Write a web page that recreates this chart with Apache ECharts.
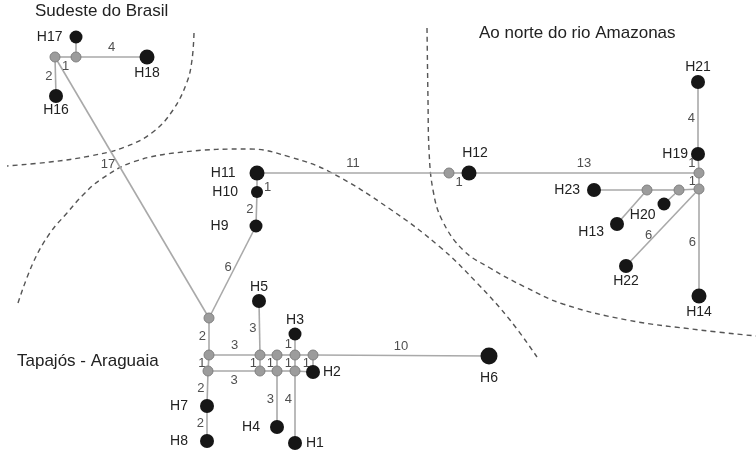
<!DOCTYPE html>
<html>
<head>
<meta charset="utf-8">
<style>
  html, body { margin: 0; padding: 0; background: #fff; }
  #chart { width: 756px; height: 452px; }
</style>
<script src="https://cdn.jsdelivr.net/npm/echarts@6/dist/echarts.min.js"></script>
</head>
<body>
<div id="chart"></div>
<script>
// haplotypes (black nodes), positions
const haplotypes = ['H1', 'H2', 'H3', 'H4', 'H5', 'H6', 'H7', 'H8', 'H9', 'H10', 'H11', 'H12',
  'H13', 'H14', 'H16', 'H17', 'H18', 'H19', 'H20', 'H21', 'H22', 'H23']
const hapX = [295, 313, 295, 277, 259, 489, 207, 207, 256, 257, 257, 469, 617, 699, 56, 76, 147, 698, 664, 698, 626, 594]
const hapY = [443, 372, 334, 427, 301, 356, 406, 441, 226, 192, 173, 173, 224, 296, 96, 37, 57, 154, 204, 82, 266, 190]

// median vectors (grey nodes)
const medians = ['mA', 'mB', 'mG1', 'mG2', 'mG3', 'mT1', 'mT2', 'mT3', 'mT4', 'mB1', 'mB2', 'mB3', 'mC', 'mD', 'mE', 'mF', 'mG']
const medX = [55, 76, 209, 209, 208, 260, 277, 295, 313, 260, 277, 295, 449, 699, 699, 679, 647]
const medY = [57, 57, 318, 355, 371, 355, 355, 355, 355, 371, 371, 371, 173, 173, 189, 190, 190]

// links and number of mutational steps (0 = not labelled)
const edgeFrom = ['mA', 'mB', 'mB', 'mA', 'mA', 'mG1', 'H9', 'H10', 'H11', 'mC', 'H12', 'mD', 'mD', 'H19',
  'mE', 'mF', 'mG', 'mG', 'mF', 'mE', 'mE', 'mG1', 'mG2', 'mG3', 'H7', 'mG2', 'mT1', 'mT2', 'mT3', 'mT4',
  'mT1', 'mT3', 'mG3', 'mB1', 'mB2', 'mB3', 'mT1', 'mT2', 'mT3', 'mT4', 'mB2', 'mB3']
const edgeTo = ['mB', 'H17', 'H18', 'H16', 'mG1', 'H9', 'H10', 'H11', 'mC', 'H12', 'mD', 'H19', 'mE', 'H21',
  'mF', 'mG', 'H23', 'H13', 'H20', 'H22', 'H14', 'mG2', 'mG3', 'H7', 'H8', 'mT1', 'mT2', 'mT3', 'mT4', 'H6',
  'H5', 'H3', 'mB1', 'mB2', 'mB3', 'H2', 'mB1', 'mB2', 'mB3', 'H2', 'H4', 'H1']
const edgeSteps = [1, 0, 4, 2, 17, 6, 2, 1, 11, 1, 13, 1, 1, 4,
  0, 0, 0, 0, 0, 6, 6, 2, 1, 2, 2, 3, 0, 0, 0, 10,
  3, 1, 3, 0, 0, 0, 1, 1, 1, 1, 3, 4]

// dashed region borders
const sudesteBorder = [[194, 33], [192, 60], [187, 82], [173, 110], [153, 132], [125, 147], [90, 156], [50, 162], [7, 166]]
const tapajosBorder = [[18, 303], [33, 263], [50, 233], [67, 213], [83, 195], [100, 180], [133, 162], [183, 152],
  [250, 149], [290, 157], [330, 172], [390, 209], [440, 247], [477, 283], [510, 320], [537, 357]]
const amazonasBorder = [[427, 28], [428, 100], [429, 150], [433, 190], [442, 220], [463, 250], [490, 268],
  [525, 287], [563, 304], [627, 320], [700, 330], [756, 336]]

// styling (kept apart from the data)
const hapSize = [14, 14, 13, 14, 14, 17, 14, 14, 13, 12, 15, 15, 14, 15, 14, 13, 15, 14, 13, 14, 14, 14]
const hapLabelPos = ['right', 'right', 'top', 'left', 'top', 'bottom', 'left', 'left', 'left', 'left', 'left', 'top',
  'left', 'bottom', 'bottom', 'left', 'bottom', 'left', 'left', 'top', 'bottom', 'left']
const hapLabelDist = [4, 3, 0, 10, 0, 7, 12, 12, 21, 13, 14, 5, 6, 2, 0, 7, 2, 3, 2, 1, 1, 7]
const labelShift = { H12: [6, 0], H13: [0, 8], H20: [0, 11] }
const edgeLabelSide = ['bottom', '', 'top', 'left', 'left', 'left', 'left', 'right', 'top', 'bottom', 'top', 'left', 'left', 'left',
  '', '', '', '', '', 'left', 'left', 'left', 'left', 'left', 'left', 'top', '', '', '', 'top',
  'left', 'left', 'bottom', '', '', '', 'left', 'left', 'left', 'left', 'left', 'left']
const edgeLabelAt = { 4: 0.41, 5: 0.55, 7: 0.26, 19: 0.6, 41: 0.4 }
const edgeLabelDist = { 7: 7 }

const FONT = 'Liberation Sans'
const chart = echarts.init(document.getElementById('chart'), null, { renderer: 'canvas' })

const pos = {}
haplotypes.forEach((n, i) => { pos[n] = [hapX[i], hapY[i]] })
medians.forEach((n, i) => { pos[n] = [medX[i], medY[i]] })

const nodes = haplotypes.map((n, i) => ({
  name: n,
  value: [hapX[i], hapY[i]],
  symbolSize: hapSize[i],
  itemStyle: { color: '#161616' },
  label: {
    show: true,
    position: hapLabelPos[i],
    distance: hapLabelDist[i],
    offset: labelShift[n] || [0, 0],
    formatter: n,
    fontSize: 14,
    color: '#222',
    fontFamily: FONT
  }
})).concat(medians.map((n, i) => ({
  name: n,
  value: [medX[i], medY[i]],
  symbolSize: 10,
  itemStyle: { color: '#9c9c9c', borderColor: '#808080', borderWidth: 1 },
  label: { show: false }
})))

const links = edgeFrom.map((s, i) => ({ source: s, target: edgeTo[i] }))

const stepLabels = []
edgeSteps.forEach((n, i) => {
  if (!n) return
  const a = pos[edgeFrom[i]], b = pos[edgeTo[i]]
  const t = edgeLabelAt[i] || 0.5
  stepLabels.push({
    value: [a[0] + (b[0] - a[0]) * t, a[1] + (b[1] - a[1]) * t, n],
    label: { position: edgeLabelSide[i], distance: edgeLabelDist[i] || 3 }
  })
})

const border = (pts) => ({
  type: 'line',
  data: pts,
  smooth: 0.4,
  symbol: 'none',
  silent: true,
  z: 1,
  lineStyle: { color: '#555', width: 1.4, type: [5, 4] }
})

const option = {
  animation: false,
  textStyle: { fontFamily: FONT },
  title: [
    { text: 'Sudeste do Brasil', left: 35, top: 3, padding: 0, textStyle: { fontSize: 17, fontWeight: 'normal', color: '#222', fontFamily: FONT } },
    { text: 'Ao norte do rio Amazonas', left: 479, top: 25, padding: 0, textStyle: { fontSize: 17, fontWeight: 'normal', color: '#222', fontFamily: FONT } },
    { text: 'Tapajós - Araguaia', left: 17, top: 353, padding: 0, textStyle: { fontSize: 17, fontWeight: 'normal', color: '#222', fontFamily: FONT } }
  ],
  grid: { left: 0, right: 0, top: 0, bottom: 0 },
  xAxis: { type: 'value', min: 0, max: 756, show: false },
  yAxis: { type: 'value', min: 0, max: 452, inverse: true, show: false },
  series: [
    border(sudesteBorder),
    border(tapajosBorder),
    border(amazonasBorder),
    {
      type: 'graph',
      coordinateSystem: 'cartesian2d',
      layout: 'none',
      silent: true,
      z: 2,
      data: nodes,
      links: links,
      lineStyle: { color: '#a9a9a9', width: 1.6, opacity: 1, curveness: 0 }
    },
    {
      type: 'scatter',
      symbolSize: 0,
      silent: true,
      z: 3,
      data: stepLabels,
      label: {
        show: true,
        distance: 3,
        fontSize: 13,
        color: '#222',
        fontFamily: FONT,
        formatter: (p) => String(p.value[2])
      }
    }
  ]
}

chart.setOption(option)
window.addEventListener('resize', () => chart.resize())
</script>
</body>
</html>
